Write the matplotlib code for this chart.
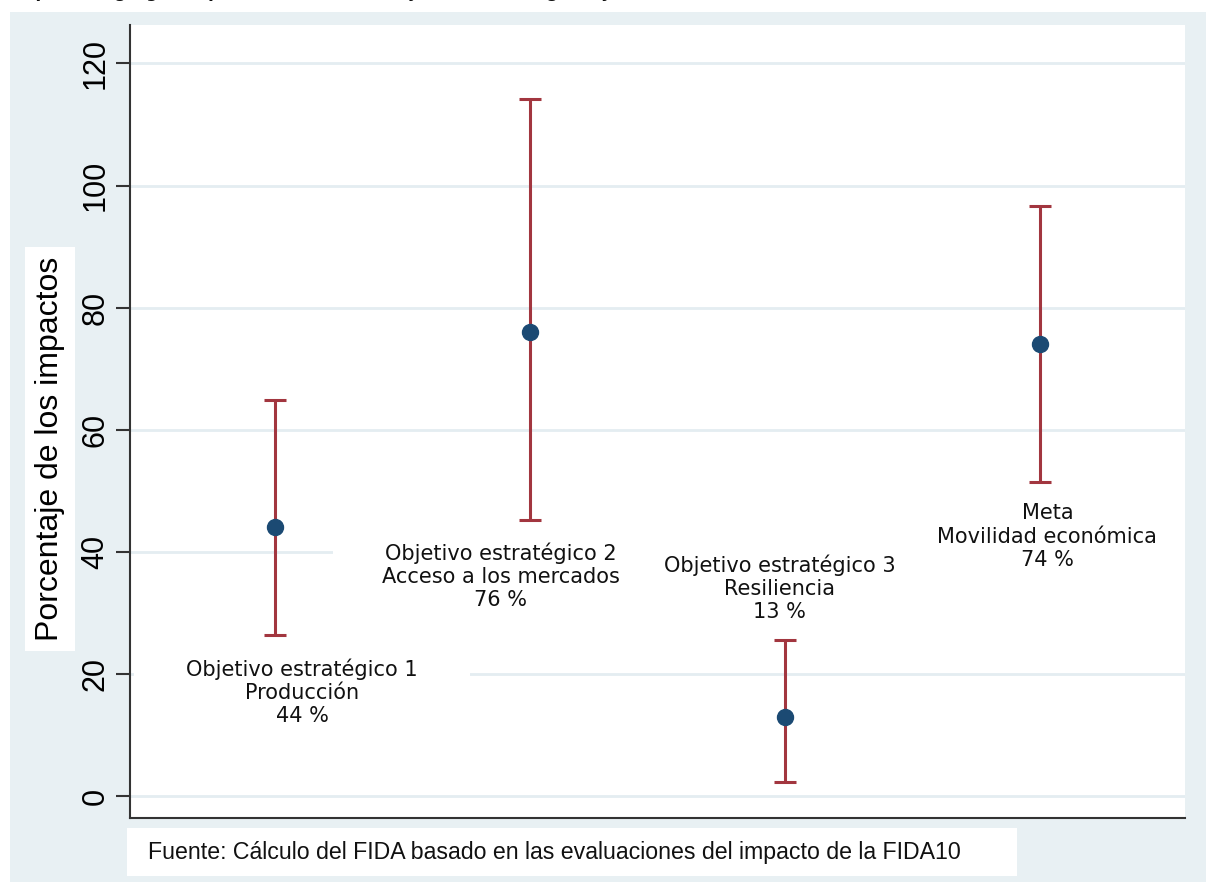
import matplotlib
matplotlib.use("Agg")
import matplotlib.pyplot as plt
from matplotlib.patches import Rectangle

''' [ DATA ] '''

labels = ["Objetivo estratégico 1\nProducción\n44 %",
          "Objetivo estratégico 2\nAcceso a los mercados\n76 %",
          "Objetivo estratégico 3\nResiliencia\n13 %",
          "Meta\nMovilidad económica\n74 %"]
positions = [1, 2, 3, 4]
impacts = [44, 76, 13, 74]
lowerCI = [26.4, 45.2, 2.3, 51.5]
upperCI = [64.9, 114.1, 25.6, 96.7]
yticks = [0, 20, 40, 60, 80, 100, 120]

title = "Impactos agregados ponderados de los objetivos estratégicos y de la meta"
source = "Fuente: Cálculo del FIDA basado en las evaluaciones del impacto de la FIDA10"

''' [ LAYOUT ] '''

labelX = [1.105, 1.885, 2.98, 4.03]
labelY = [17, 36, 34, 42.5]
boxHalfW = 0.66
boxHalfH = 10

bgColor = "#E8F0F3"
gridColor = "#E4EDF1"
pointColor = "#1B4A73"
barColor = "#A2363F"

''' [ PLOT ] '''

fig = plt.figure(figsize=(12.06, 8.82), dpi=100, facecolor="white")
fig.patches.append(Rectangle((10 / 1206, 0), 1, (882 - 12) / 882, transform=fig.transFigure,
                             facecolor=bgColor, edgecolor="none", zorder=-10))

ax = fig.add_axes([130 / 1206, 1 - 818 / 882, 1055 / 1206, 793 / 882])
ax.set_facecolor("white")

# white boxes behind the labels hide the grid, like the original
for x, y, txt in zip(labelX, labelY, labels):
    ax.add_patch(Rectangle((x - boxHalfW, y - boxHalfH), 2 * boxHalfW, 2 * boxHalfH,
                           facecolor="white", edgecolor="none", zorder=1.5))
    ax.text(x, y, txt, ha="center", va="center", fontsize=15, family="DejaVu Sans",
            color="#111111", linespacing=1.2, zorder=5)

errLow = [m - lo for m, lo in zip(impacts, lowerCI)]
errHigh = [hi - m for m, hi in zip(impacts, upperCI)]
ax.errorbar(positions, impacts, yerr=[errLow, errHigh], fmt="none", ecolor=barColor,
            elinewidth=2.2, capsize=8, capthick=2.2, zorder=3)
ax.plot(positions, impacts, "o", color=pointColor, markersize=11.5, zorder=4)

ax.set_xlim(0.43, 4.57)
ax.set_ylim(-3.6, 126.3)
ax.set_xticks([])
ax.set_yticks(yticks)
ax.set_yticklabels([str(t) for t in yticks], rotation=90, va="center",
                   fontsize=22, family="Liberation Sans")
ax.tick_params(axis="y", length=10, width=1.5, color="#333333", pad=4)
ax.grid(axis="y", color=gridColor, linewidth=2, zorder=0)
ax.set_axisbelow(True)
for side in ["top", "right"]:
    ax.spines[side].set_visible(False)
for side in ["left", "bottom"]:
    ax.spines[side].set_color("#333333")
    ax.spines[side].set_linewidth(1.5)

fig.text(50 / 1206, 1 - 449 / 882, "Porcentaje de los impactos", rotation=90,
         ha="center", va="center", fontsize=23, family="Liberation Sans",
         bbox=dict(boxstyle="square,pad=0.3", facecolor="white", edgecolor="none"))

fig.patches.append(Rectangle((127 / 1206, 1 - 876 / 882), 890 / 1206, 48 / 882,
                             transform=fig.transFigure, facecolor="white",
                             edgecolor="none", zorder=-5))
fig.text(148 / 1206, 1 - 852 / 882, source, ha="left", va="center", fontsize=16.7,
         family="Liberation Sans", color="#111111")

# title line is cut off at the top edge in the original
fig.text(12 / 1206, 1 + 2.8 / 882, title, ha="left", va="baseline", fontsize=12,
         fontweight="bold", color="#111111")

plt.savefig("out.png", dpi=100, facecolor=fig.get_facecolor())
